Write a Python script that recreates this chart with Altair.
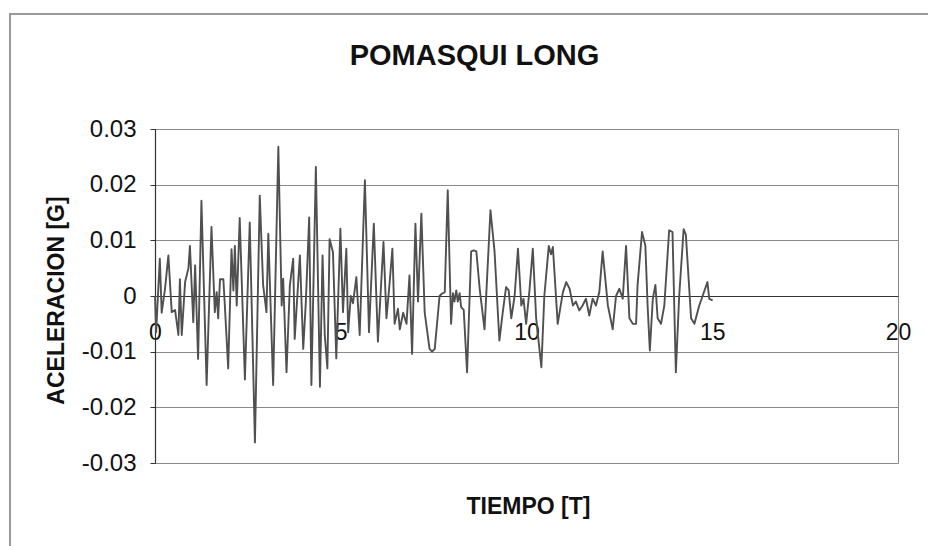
import altair as alt
import pandas as pd

# Time [s]
tiempo = [
    0.00, 0.03, 0.13, 0.18, 0.27, 0.36, 0.45, 0.54, 0.63, 0.67,
    0.72, 0.81, 0.90, 0.94, 1.03, 1.08, 1.16, 1.25, 1.39, 1.52,
    1.61, 1.66, 1.70, 1.75, 1.84, 1.88, 1.97, 2.06, 2.11, 2.15,
    2.20, 2.28, 2.42, 2.55, 2.69, 2.82, 2.91, 3.00, 3.05, 3.18,
    3.32, 3.41, 3.45, 3.54, 3.63, 3.72, 3.76, 3.90, 3.99, 4.06,
    4.15, 4.21, 4.33, 4.44, 4.51, 4.57, 4.64, 4.70, 4.79, 4.88,
    4.99, 5.06, 5.15, 5.20, 5.27, 5.33, 5.42, 5.51, 5.65, 5.76,
    5.89, 6.00, 6.15, 6.23, 6.31, 6.39, 6.45, 6.54, 6.59, 6.68,
    6.77, 6.85, 6.92, 7.01, 7.08, 7.17, 7.26, 7.39, 7.46, 7.53,
    7.66, 7.72, 7.80, 7.88, 7.97, 8.02, 8.06, 8.11, 8.15, 8.20,
    8.24, 8.31, 8.40, 8.51, 8.58, 8.65, 8.74, 8.87, 9.03, 9.14,
    9.27, 9.36, 9.45, 9.52, 9.59, 9.68, 9.77, 9.86, 9.92, 9.99,
    10.08, 10.17, 10.26, 10.40, 10.48, 10.60, 10.66, 10.71, 10.84, 10.98,
    11.07, 11.16, 11.25, 11.33, 11.42, 11.51, 11.60, 11.69, 11.78, 11.87,
    11.96, 12.05, 12.19, 12.32, 12.41, 12.50, 12.59, 12.68, 12.77, 12.86,
    12.95, 12.99, 13.11, 13.20, 13.26, 13.32, 13.40, 13.47, 13.53, 13.62,
    13.71, 13.84, 13.93, 14.02, 14.11, 14.23, 14.29, 14.43, 14.52, 14.65,
    14.74, 14.87, 14.92, 15.01,
]

# Acceleration [G]
aceleracion = [
    0.0000, -0.0065, 0.0067, -0.0030, 0.0013, 0.0073, -0.0029, -0.0025, -0.0070, 0.0030,
    -0.0070, 0.0025, 0.0050, 0.0090, -0.0047, 0.0055, -0.0113, 0.0171, -0.0160, 0.0124,
    -0.0029, 0.0007, -0.0040, 0.0030, 0.0030, -0.0017, -0.0130, 0.0084, 0.0010, 0.0090,
    -0.0017, 0.0140, -0.0150, 0.0132, -0.0263, 0.0180, 0.0020, -0.0029, 0.0112, -0.0160,
    0.0268, -0.0017, 0.0031, -0.0137, 0.0019, 0.0067, -0.0077, 0.0073, -0.0095, -0.0011,
    0.0141, -0.0160, 0.0232, -0.0163, 0.0073, -0.0070, -0.0130, 0.0102, 0.0079, -0.0112,
    0.0121, -0.0029, 0.0085, -0.0065, 0.0000, -0.0013, 0.0034, -0.0070, 0.0208, -0.0065,
    0.0130, -0.0082, 0.0097, -0.0040, 0.0019, 0.0085, -0.0050, -0.0023, -0.0060, -0.0030,
    -0.0050, 0.0037, -0.0104, 0.0130, -0.0010, 0.0148, -0.0030, -0.0095, -0.0100, -0.0095,
    0.0000, 0.0004, 0.0007, 0.0190, -0.0050, 0.0005, -0.0010, 0.0010, -0.0010, 0.0005,
    -0.0020, -0.0025, -0.0137, 0.0080, 0.0082, 0.0080, 0.0013, -0.0060, 0.0154, 0.0080,
    -0.0080, -0.0030, 0.0016, 0.0010, -0.0040, 0.0000, 0.0085, -0.0017, -0.0005, -0.0050,
    0.0010, 0.0085, -0.0040, -0.0128, 0.0000, 0.0090, 0.0075, 0.0088, -0.0050, 0.0007,
    0.0025, 0.0013, -0.0017, -0.0010, -0.0026, -0.0017, -0.0005, -0.0035, -0.0005, -0.0017,
    0.0007, 0.0080, -0.0017, -0.0060, 0.0000, 0.0013, -0.0005, 0.0090, -0.0040, -0.0050,
    -0.0050, 0.0020, 0.0115, 0.0090, -0.0017, -0.0098, -0.0005, 0.0020, -0.0040, -0.0050,
    -0.0017, 0.0118, 0.0115, -0.0137, 0.0000, 0.0120, 0.0110, -0.0040, -0.0050, -0.0017,
    0.0000, 0.0025, -0.0005, -0.0008,
]

x_ticks = [0, 5, 10, 15, 20]
y_ticks = [-0.03, -0.02, -0.01, 0.0, 0.01, 0.02, 0.03]

df = pd.DataFrame({"t": tiempo, "a": aceleracion})

FONT = "Liberation Sans"
PLOT_W = 743
PLOT_H = 334

line = alt.Chart(df).mark_line(color="#505050", strokeWidth=1.9, strokeJoin="round").encode(
    x=alt.X(
        "t:Q",
        scale=alt.Scale(domain=[0, 20], nice=False, zero=False),
        axis=alt.Axis(
            values=x_ticks,
            offset=-PLOT_H / 2,
            title="TIEMPO [T]",
            titleFont=FONT,
            titleFontSize=23,
            titleFontWeight="bold",
            titleColor="#111111",
            titleX=373,
            titleY=210,
            titleAlign="center",
            titleBaseline="middle",
            labelFont=FONT,
            labelFontSize=23,
            labelColor="#111111",
            labelBaseline="middle",
            labelPadding=36,
            labelFlush=False,
            ticks=False,
            grid=False,
            domainColor="#333333",
            domainWidth=1.2,
        ),
    ),
    y=alt.Y(
        "a:Q",
        scale=alt.Scale(domain=[-0.03, 0.03], nice=False, zero=False),
        axis=alt.Axis(
            values=y_ticks,
            labelExpr="abs(datum.value) < 1e-9 ? '0' : replace(format(datum.value, '.2f'), '\u2212', '-')",
            title="ACELERACION [G]",
            titleFont=FONT,
            titleFontSize=23,
            titleFontWeight="bold",
            titleColor="#111111",
            titleX=-99,
            titleY=171,
            titleAngle=270,
            titleAlign="center",
            titleBaseline="middle",
            labelFont=FONT,
            labelFontSize=24,
            labelColor="#111111",
            labelPadding=14,
            tickSize=5,
            tickColor="#333333",
            domainColor="#333333",
            domainWidth=1.2,
            grid=True,
            gridColor="#8a8a8a",
            gridWidth=1,
        ),
    ),
)

frame = alt.Chart(df).mark_rect(
    filled=False, stroke="#9a9a9a", strokeWidth=1.5, clip=False
).encode(
    x=alt.value(-145), x2=alt.value(PLOT_W + 60),
    y=alt.value(-115), y2=alt.value(PLOT_H + 120),
)

chart = alt.layer(frame, line).properties(
    width=PLOT_W,
    height=PLOT_H,
    title=alt.TitleParams(
        "POMASQUI LONG",
        font=FONT,
        fontSize=29,
        fontWeight="bold",
        color="#111111",
        anchor="middle",
        baseline="middle",
        frame="group",
        offset=-72,
        dx=-52,
    ),
    autosize=alt.AutoSizeParams(type="none"),
    padding={"left": 155, "top": 129, "right": 30, "bottom": 83},
    background="white",
).configure_view(
    stroke="#8a8a8a", strokeWidth=1
)

chart.save("out.html", embed_options={"renderer": "svg", "actions": False})
